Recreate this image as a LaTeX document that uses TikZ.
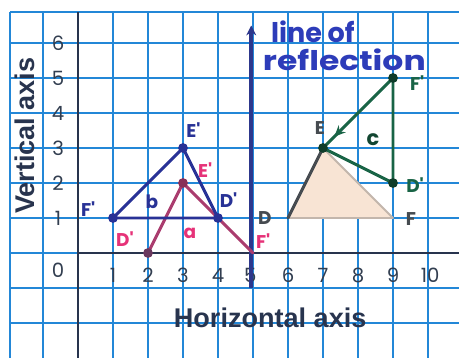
\documentclass[tikz,border=0pt]{standalone}
\usepackage{fontspec}
\setmainfont{Liberation Sans}
\newfontfamily\hand{Poppins}
\usetikzlibrary{arrows.meta,decorations.markings}
\definecolor{gridblue}{RGB}{35,135,215}
\definecolor{axisdark}{RGB}{40,52,78}
\definecolor{numgray}{RGB}{50,62,80}
\definecolor{navyc}{RGB}{40,50,150}
\definecolor{mauve}{RGB}{170,60,110}
\definecolor{pinklab}{RGB}{230,50,120}
\definecolor{dgreen}{RGB}{25,100,70}
\definecolor{origgray}{RGB}{70,75,80}
\definecolor{peach}{RGB}{248,228,212}
\definecolor{reflc}{RGB}{45,55,140}
\definecolor{refltext}{RGB}{45,60,185}
\tikzset{
  gridline/.style={gridblue, line width=2pt},
  axisline/.style={axisdark, line width=2.4pt},
  num/.style={text=numgray, font=\hand\fontsize{16}{16}\selectfont, inner sep=0pt},
  title/.style={text=axisdark, font=\bfseries\fontsize{22}{22}\selectfont, inner sep=0pt},
  lab/.style={font=\hand\bfseries\fontsize{15}{15}\selectfont, inner sep=0pt},
  tri/.style={line width=2.4pt, line cap=round, line join=round},
  dot/.style={circle, fill, inner sep=0pt, minimum size=0.28cm},
  refltxt/.style={text=refltext, font=\hand\bfseries\fontsize{22}{22}\selectfont, inner sep=0pt},
}
\begin{document}
\begin{tikzpicture}
\useasboundingbox[fill=white] (-2.2286,-3.0) rectangle (10.886,7.2286);
% grid
\foreach \x in {-1,...,10} \draw[gridline] (\x,-3.05) -- (\x,6.886);
\draw[gridline] (-1.94,-3.05) -- (-1.94,6.886);
\foreach \y in {-2,...,6} \draw[gridline] (-1.94,\y) -- (10.95,\y);
\draw[gridline] (-1.94,6.886) -- (10.95,6.886);
% axes
\draw[axisline] (0,-3.05) -- (0,6.886);
\draw[axisline] (0,0) -- (10.95,0);
% axis numbers
\foreach \y in {1,...,6} \node[num] (ny\y) at (-0.57,\y) {\y};
\node[num] (n0) at (-0.57,-0.49) {0};
\foreach \x/\p in {1/1,2/2,3/3,4/4,5/4.92,6/6,7/7,8/8,9/9,10/10.06} \node[num] (nx\x) at (\p,-0.63) {\x};
% titles
\node[title, rotate=90] (vt) at (-1.51,3.35) {Vertical axis};
\node[title] (ht) at (5.49,-1.86) {Horizontal axis};
% points
\coordinate (D) at (6,1);
\coordinate (E) at (7,3);
\coordinate (F) at (9,1);
\coordinate (gF) at (9,5);
\coordinate (gD) at (9,2);
\coordinate (bF) at (1,1);
\coordinate (bE) at (3,3);
\coordinate (bD) at (4,1);
\coordinate (pD) at (2,0);
\coordinate (pE) at (3,2);
\coordinate (pF) at (5,0);
\coordinate (rb) at (4.95,-1.0);
\coordinate (rt) at (4.95,6.5);
% original triangle
\fill[peach] (D) -- (E) -- (F) -- cycle;
\draw[tri, origgray!30!peach, line width=1.5pt] (E) -- (F) -- (D);
\draw[tri, origgray] (D) -- (E);
% line of reflection
\draw[reflc, line width=3.4pt, -{Stealth[length=8pt,width=8pt]}] (rb) -- (rt);
\node[refltxt] (lt1) at (6.71,6.33) {line of};
\node[refltxt] (lt2) at (7.61,5.53) {\scalebox{1.22}[1]{reflection}};
% pink triangle
\draw[tri, mauve] (pD) -- (pE) -- (pF);
% navy triangle
\draw[tri, navyc] (bF) -- (bE) -- (bD) -- cycle;
% green
\draw[tri, dgreen, decoration={markings, mark=at position 0.84 with {\arrow{Stealth[length=9pt,width=8pt]}}}, postaction={decorate}] (gF) -- (E);
\draw[tri, dgreen] (gF) -- (gD) -- (E);
% dots
\node[dot, navyc] (dbF) at (bF) {};
\node[dot, navyc] (dbE) at (bE) {};
\node[dot, navyc] (dbD) at (bD) {};
\node[dot, mauve!80!black] (dpE) at (pE) {};
\node[dot, mauve!50!axisdark] (dpD) at (pD) {};
\node[dot, dgreen!60!black] (dE) at (E) {};
\node[dot, dgreen!60!black] (dgF) at (gF) {};
\node[dot, dgreen!60!black] (dgD) at (gD) {};
% labels
\node[lab, text=navyc] (lbF) at (0.29,1.25) {F'};
\node[lab, text=navyc] (lbb) at (2.11,1.46) {b};
\node[lab, text=navyc] (lbE) at (3.3,3.52) {E'};
\node[lab, text=navyc] (lbD) at (4.3,1.52) {D'};
\node[lab, text=pinklab] (lpD) at (1.34,0.4) {D'};
\node[lab, text=pinklab] (lpa) at (3.2,0.57) {a};
\node[lab, text=pinklab] (lpE) at (3.63,2.37) {E'};
\node[lab, text=pinklab] (lpF) at (5.29,0.33) {F'};
\node[lab, text=dgreen] (lgF) at (9.69,4.86) {F'};
\node[lab, text=dgreen] (lgD) at (9.63,1.94) {D'};
\node[lab, text=dgreen!70!black, font=\hand\bfseries\fontsize{17}{17}\selectfont] (lgc) at (8.43,3.25) {c};
\node[lab, text=origgray] (lE) at (6.91,3.57) {E};
\node[lab, text=origgray] (lD) at (5.34,1.0) {D};
\node[lab, text=origgray] (lF) at (9.51,0.97) {F};
\end{tikzpicture}
\end{document}
